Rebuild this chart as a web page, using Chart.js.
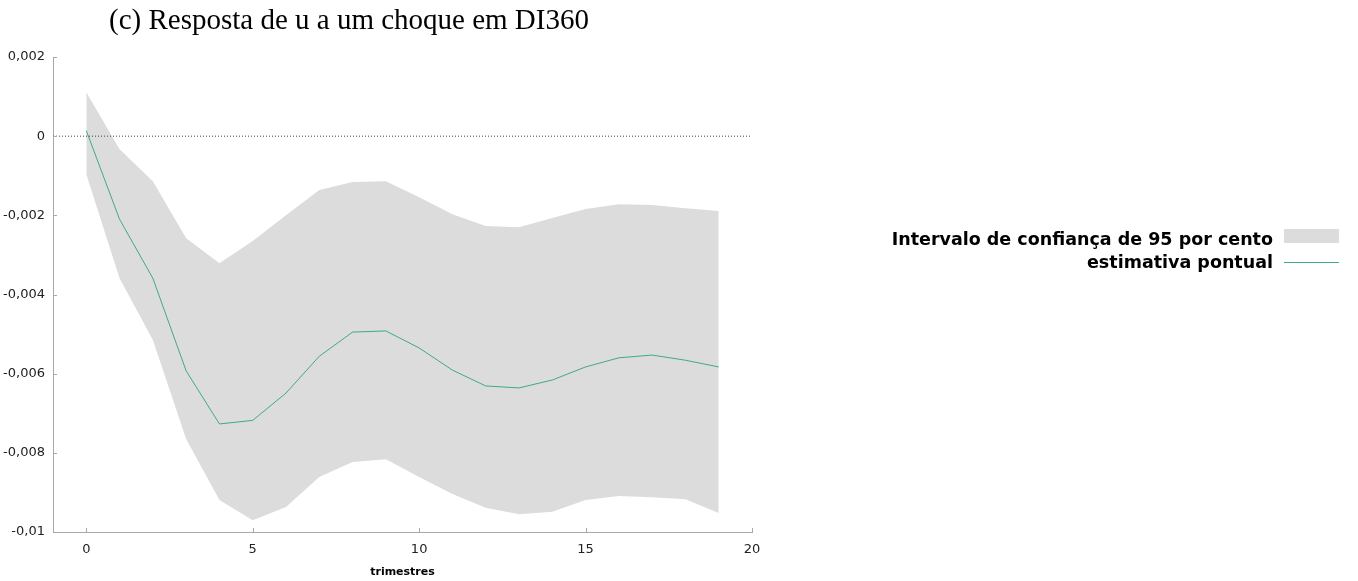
<!DOCTYPE html>
<html>
<head>
<meta charset="utf-8">
<script src="https://cdn.jsdelivr.net/npm/chart.js@4/dist/chart.umd.min.js"></script>
<style>
  html, body { margin: 0; padding: 0; background: #ffffff; }
  #wrap { position: relative; width: 1358px; height: 581px; }
</style>
</head>
<body>
<div id="wrap"><canvas id="c" width="1358" height="581"></canvas></div>
<script>
// ---- data ----
const periods = [0, 1, 2, 3, 4, 5, 6, 7, 8, 9, 10, 11, 12, 13, 14, 15, 16, 17, 18, 19];
const pointEstimate = [0.00014, -0.0021, -0.00359, -0.00593, -0.00727, -0.00718, -0.00649, -0.00556, -0.00495, -0.00492,
                       -0.00535, -0.00591, -0.00631, -0.00636, -0.00616, -0.00583, -0.0056, -0.00553, -0.00566, -0.00583];
const upperBand = [0.00111, -0.00033, -0.00114, -0.00258, -0.00321, -0.00265, -0.002, -0.00136, -0.00116, -0.00114,
                   -0.00154, -0.00197, -0.00227, -0.0023, -0.00207, -0.00184, -0.00172, -0.00174, -0.00182, -0.00189];
const lowerBand = [-0.00096, -0.00359, -0.00515, -0.00765, -0.00919, -0.0097, -0.00937, -0.00861, -0.00823, -0.00816,
                   -0.00861, -0.00904, -0.00939, -0.00955, -0.00949, -0.00919, -0.00909, -0.00912, -0.00917, -0.00952];
const zeroLineX = [-1, 20];
const xTickValues = [0, 5, 10, 15, 20];
const yTickValues = [0.002, 0, -0.002, -0.004, -0.006, -0.008, -0.01];
const yTickLabels = ['0,002', '0', '-0,002', '-0,004', '-0,006', '-0,008', '-0,01'];
const titleText = '(c) Resposta de u a um choque em DI360';
const xAxisTitle = 'trimestres';
const bandLabel = 'Intervalo de confiança de 95 por cento';
const lineLabel = 'estimativa pontual';

// ---- styles ----
const BAND_COLOR = '#dcdcdc';
const LINE_COLOR = '#3faa8b';
const AXIS_COLOR = '#a8a8a8';
const TICK_FONT = { family: "'DejaVu Sans', sans-serif", size: 13 };

const toPts = (ys) => periods.map((p, i) => ({ x: p, y: ys[i] }));

const titlePlugin = {
  id: 'figTitle',
  afterDraw(chart) {
    const ctx = chart.ctx;
    ctx.save();
    ctx.font = "29px 'Liberation Serif', 'Times New Roman', serif";
    ctx.fillStyle = '#000';
    ctx.textAlign = 'left';
    ctx.textBaseline = 'alphabetic';
    ctx.fillText(titleText, 109, 29);
    ctx.restore();
  }
};

const innerTicksPlugin = {
  id: 'innerTicks',
  afterDraw(chart) {
    const ctx = chart.ctx;
    const xs = chart.scales.x, ys = chart.scales.y;
    const area = chart.chartArea;
    ctx.save();
    ctx.strokeStyle = AXIS_COLOR;
    ctx.lineWidth = 1;
    ctx.beginPath();
    xs.ticks.forEach(t => {
      const px = Math.round(xs.getPixelForValue(t.value)) + 0.5;
      ctx.moveTo(px, area.bottom);
      ctx.lineTo(px, area.bottom - 4);
    });
    ys.ticks.forEach(t => {
      const py = Math.round(ys.getPixelForValue(t.value)) + 0.5;
      ctx.moveTo(area.left, py);
      ctx.lineTo(area.left + 4, py);
    });
    ctx.stroke();
    ctx.restore();
  }
};

const legendPlugin = {
  id: 'sideLegend',
  afterDraw(chart) {
    const ctx = chart.ctx;
    const band = chart.data.datasets[2];
    const line = chart.data.datasets[0];
    const textRight = 1273, boxLeft = 1284, boxRight = 1339;
    ctx.save();
    ctx.font = "bold 17.5px 'DejaVu Sans', sans-serif";
    ctx.fillStyle = '#000';
    ctx.textAlign = 'right';
    ctx.textBaseline = 'alphabetic';
    ctx.fillText(band.label, textRight, 245);
    ctx.fillText(line.label, textRight, 268);
    ctx.fillStyle = band.backgroundColor;
    ctx.fillRect(boxLeft, 229, boxRight - boxLeft, 14);
    ctx.strokeStyle = line.borderColor;
    ctx.lineWidth = 1;
    ctx.beginPath();
    ctx.moveTo(boxLeft, 262.5);
    ctx.lineTo(boxRight, 262.5);
    ctx.stroke();
    ctx.restore();
  }
};

new Chart(document.getElementById('c'), {
  type: 'line',
  data: {
    datasets: [
      {
        label: lineLabel,
        data: toPts(pointEstimate),
        borderColor: LINE_COLOR,
        borderWidth: 1,
        pointRadius: 0,
        fill: false,
        tension: 0
      },
      {
        label: 'zero',
        data: zeroLineX.map(x => ({ x: x, y: 0 })),
        borderColor: '#444444',
        borderWidth: 1,
        borderDash: [1, 2],
        pointRadius: 0,
        fill: false
      },
      {
        label: bandLabel,
        data: toPts(upperBand),
        borderWidth: 0,
        borderColor: 'rgba(0,0,0,0)',
        backgroundColor: BAND_COLOR,
        pointRadius: 0,
        fill: '+1',
        tension: 0
      },
      {
        label: 'lower',
        data: toPts(lowerBand),
        borderWidth: 0,
        borderColor: 'rgba(0,0,0,0)',
        pointRadius: 0,
        fill: false,
        tension: 0
      }
    ]
  },
  options: {
    responsive: false,
    animation: false,
    events: [],
    layout: { padding: { top: 57, right: 606, bottom: 0, left: 0 } },
    plugins: {
      legend: { display: false },
      tooltip: { enabled: false },
      title: { display: false }
    },
    scales: {
      x: {
        type: 'linear',
        min: -1,
        max: 20,
        afterBuildTicks: (s) => { s.ticks = xTickValues.map(v => ({ value: v })); },
        afterFit: (s) => { s.height = 49; },
        grid: { drawOnChartArea: false, drawTicks: false },
        border: { display: true, color: AXIS_COLOR, width: 1 },
        ticks: {
          padding: 10,
          color: '#222',
          font: TICK_FONT,
          maxRotation: 0,
          autoSkip: false,
          callback: (v) => String(v)
        },
        title: {
          display: true,
          text: xAxisTitle,
          color: '#000',
          font: { family: "'DejaVu Sans', sans-serif", size: 11, weight: 'bold' },
          padding: { top: 0, bottom: 2 }
        }
      },
      y: {
        type: 'linear',
        min: -0.01,
        max: 0.002,
        afterBuildTicks: (s) => { s.ticks = yTickValues.map(v => ({ value: v })); },
        afterFit: (s) => { s.width = 53; },
        grid: { drawOnChartArea: false, drawTicks: false },
        border: { display: true, color: AXIS_COLOR, width: 1 },
        ticks: {
          padding: 8,
          color: '#222',
          font: TICK_FONT,
          autoSkip: false,
          callback: (v) => {
            const i = yTickValues.findIndex(t => Math.abs(t - v) < 1e-9);
            return i >= 0 ? yTickLabels[i] : '';
          }
        }
      }
    }
  },
  plugins: [titlePlugin, innerTicksPlugin, legendPlugin]
});
</script>
</body>
</html>
